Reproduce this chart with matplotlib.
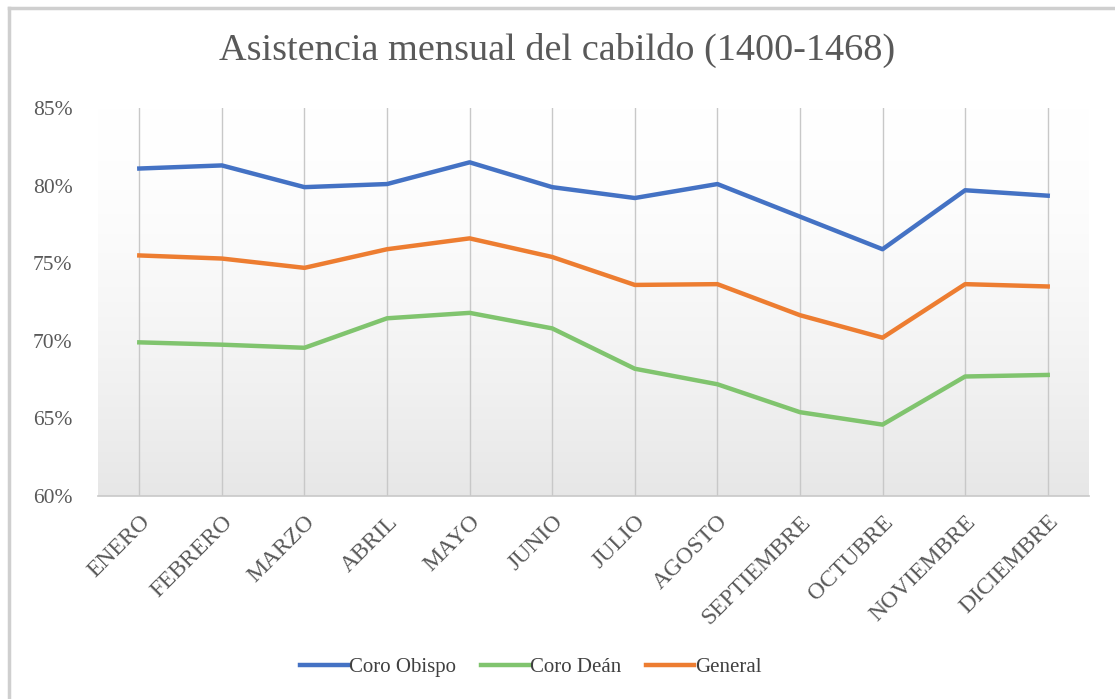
import numpy as np
import matplotlib
matplotlib.use("Agg")
import matplotlib.pyplot as plt
from matplotlib.lines import Line2D
from matplotlib.ticker import FuncFormatter

months = ["ENERO", "FEBRERO", "MARZO", "ABRIL", "MAYO", "JUNIO", "JULIO",
          "AGOSTO", "SEPTIEMBRE", "OCTUBRE", "NOVIEMBRE", "DICIEMBRE"]
coro_obispo = [81.1, 81.3, 79.9, 80.1, 81.5, 79.9, 79.2, 80.1, 78.0, 75.9, 79.7, 79.35]
coro_dean = [69.9, 69.75, 69.55, 71.45, 71.8, 70.8, 68.2, 67.2, 65.4, 64.6, 67.7, 67.8]
general = [75.5, 75.3, 74.7, 75.9, 76.6, 75.4, 73.6, 73.65, 71.65, 70.2, 73.65, 73.5]
yticks = [60, 65, 70, 75, 80, 85]

serif = ["Liberation Serif", "DejaVu Serif"]
txt = "#595959"

fig = plt.figure(figsize=(11.15, 6.99), dpi=100)
ax = fig.add_axes([98 / 1115, 1 - 496 / 699, (1089 - 98) / 1115, (496 - 108) / 699])

x = np.arange(len(months))

# gradient background (white at top -> light grey at bottom)
grad = np.linspace(0, 1, 256) ** 1.6
col_top = np.array([1.0, 1.0, 1.0])
col_bot = np.array([0.905, 0.905, 0.905])
img = col_top[None, :] * (1 - grad[:, None]) + col_bot[None, :] * grad[:, None]
img = np.repeat(img[:, None, :], 2, axis=1)
ax.imshow(img, extent=(-0.5, len(months) - 0.5, 60, 85), origin="upper",
          aspect="auto", zorder=0)
ax.set_xlim(-0.5, len(months) - 0.5)
ax.set_ylim(60, 85)

for xi in x:
    ax.axvline(xi, color="#c8c8c8", lw=1.0, zorder=1)

ax.plot(x, coro_obispo, color="#4472C4", lw=3.2, label="Coro Obispo", zorder=3, solid_joinstyle="round")
ax.plot(x, coro_dean, color="#80C46E", lw=3.2, label="Coro Deán", zorder=3, solid_joinstyle="round")
ax.plot(x, general, color="#ED7D31", lw=3.2, label="General", zorder=3, solid_joinstyle="round")

for s in ["top", "right", "left"]:
    ax.spines[s].set_visible(False)
ax.spines["bottom"].set_color("#c8c8c8")
ax.spines["bottom"].set_linewidth(1.2)

ax.set_yticks(yticks)
ax.yaxis.set_major_formatter(FuncFormatter(lambda v, p: f"{int(v)}%"))
ax.tick_params(axis="y", length=0, pad=47, labelsize=15.5, labelcolor=txt)
ax.set_xticks(x)
ax.set_xticklabels(months, rotation=45, ha="right", rotation_mode="anchor",
                   fontsize=17, color=txt)
ax.tick_params(axis="x", length=0, pad=11)
for lab in ax.get_yticklabels() + ax.get_xticklabels():
    lab.set_family(serif)
for lab in ax.get_yticklabels():
    lab.set_horizontalalignment("left")

fig.text(0.5, 1 - 50 / 699, "Asistencia mensual del cabildo (1400-1468)",
         ha="center", va="center", fontsize=27.5, color=txt, family=serif)

leg = fig.legend(handles=ax.get_lines()[-3:], loc="center", bbox_to_anchor=(531 / 1115, 1 - 667 / 699),
                 ncol=3, frameon=False, prop={"family": serif, "size": 15},
                 handlelength=2.3, handletextpad=0.05, columnspacing=1.2)
for t in leg.get_texts():
    t.set_color("#404040")

# outer chart border (top and left visible)
fig.add_artist(Line2D([9 / 1115, 1.0], [1 - 8 / 699, 1 - 8 / 699], color="#cfcfcf", lw=2.5))
fig.add_artist(Line2D([9 / 1115, 9 / 1115], [0, 1 - 8 / 699], color="#cfcfcf", lw=2.5))

fig.savefig("out.png", dpi=100)
